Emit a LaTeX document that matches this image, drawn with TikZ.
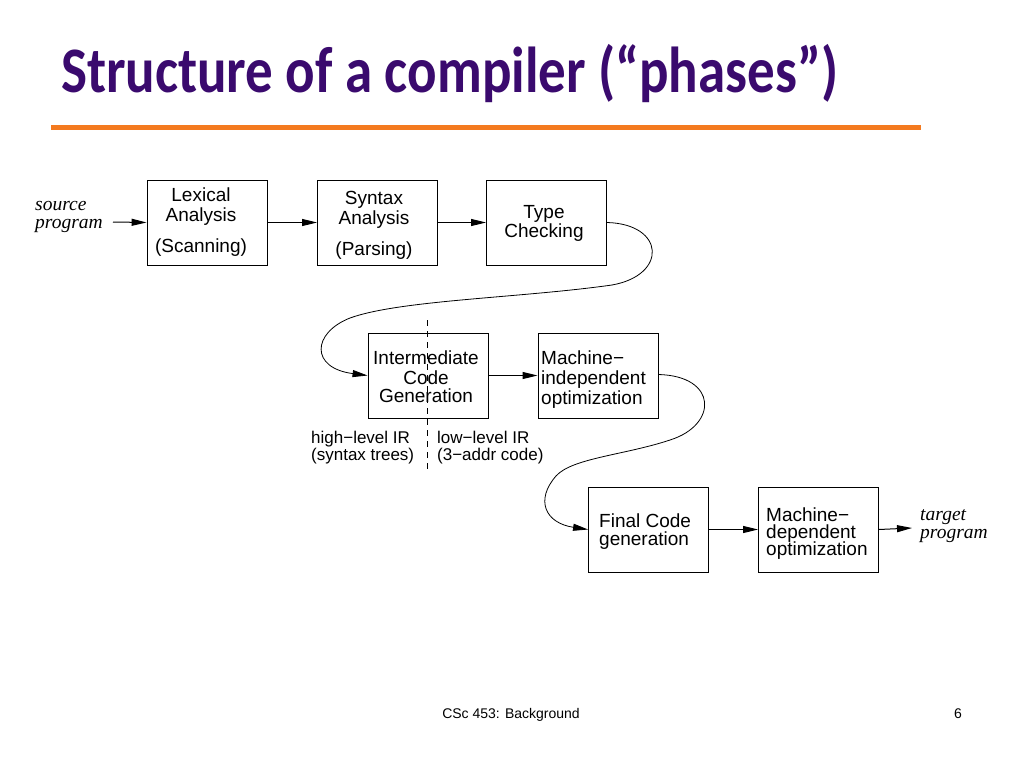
\documentclass[tikz,border=0pt]{standalone}
\usepackage{fontspec}
\setmainfont{Liberation Sans}
\newfontfamily\titlefont{Carlito}
\newfontfamily\serifit{Liberation Serif}
\usetikzlibrary{arrows.meta}
\definecolor{titlepurple}{HTML}{3A0A6E}
\definecolor{rulecolor}{HTML}{F47A1F}
\begin{document}
\begin{tikzpicture}[x=1pt,y=-1pt,
  phase/.style={draw, line width=0.9pt, minimum width=120pt, minimum height=85pt, inner sep=0pt},
  ln/.style={inner sep=0pt, anchor=base, font=\fontsize{19}{19}\selectfont},
  lnl/.style={inner sep=0pt, anchor=base west, font=\fontsize{19}{19}\selectfont},
  io/.style={inner sep=0pt, anchor=base west, font=\fontsize{19.5}{17}\serifit\itshape},
  irl/.style={inner sep=0pt, anchor=base west, font=\fontsize{17}{17}\selectfont},
  arr/.style={line width=1pt, -{Triangle[length=15pt,width=7pt]}},
  crv/.style={line width=0.8pt, -{Triangle[length=15pt,width=7pt]}}]
\useasboundingbox (0,0) rectangle (1024,768);
\fill[white] (0,0) rectangle (1024,768);
% title
\node[anchor=base west, inner sep=0pt, text=titlepurple, yscale=1.18, font=\fontsize{55}{55}\titlefont\bfseries] (title) at (61,92) {Structure of a compiler (“phases”)};
\draw[rulecolor, line width=5pt] (51,127) -- (921,127);
% boxes
\node[phase] (lex) at (207,222.5) {};
\node[phase] (syn) at (377.5,222.5) {};
\node[phase] (typ) at (546.5,222.5) {};
\node[phase] (icg) at (428,375.5) {};
\node[phase] (mio) at (598,375.5) {};
\node[phase] (fcg) at (648.5,529.5) {};
\node[phase] (mdo) at (818.5,529.5) {};
% box texts
\node[ln] (t1) at (201,201) {Lexical};
\node[ln] (t2) at (201,221) {Analysis};
\node[ln] (t3) at (201,252) {(Scanning)};
\node[ln] (t4) at (374,204) {Syntax};
\node[ln] (t5) at (374,224) {Analysis};
\node[ln] (t6) at (374,255) {(Parsing)};
\node[ln] (t7) at (544,218) {Type};
\node[ln] (t8) at (544,237) {Checking};
\node[ln] (t9) at (426,364) {Intermediate};
\node[ln] (t10) at (426,384) {Code};
\node[ln] (t11) at (426,402) {Generation};
\node[lnl] (t12) at (541,364) {Machine−};
\node[lnl] (t13) at (541,384) {independent};
\node[lnl] (t14) at (541,404) {optimization};
\node[lnl] (t15) at (599,527) {Final Code};
\node[lnl] (t16) at (599,545) {generation};
\node[lnl] (t17) at (766,521) {Machine−};
\node[lnl] (t18) at (766,538) {dependent};
\node[lnl] (t19) at (766,555) {optimization};
% io labels
\node[io] (src1) at (35,210) {source};
\node[io] (src2) at (35,228.5) {program};
\node[io] (tgt1) at (920,520) {target};
\node[io] (tgt2) at (920,538.5) {program};
\coordinate (srcend) at (113,222);
\coordinate (tgtend) at (912,528);
% IR labels
\node[irl] (hi1) at (311,443) {high−level IR};
\node[irl] (hi2) at (311,460) {(syntax trees)};
\node[irl] (lo1) at (437,443) {low−level IR};
\node[irl] (lo2) at (437,460) {(3−addr code)};
\coordinate (dtop) at (427,320);
\coordinate (dbot) at (427,472);
\draw[line width=0.8pt, dash pattern=on 6pt off 5pt] (dtop) -- (dbot);
% arrows
\draw[arr] (srcend) -- (lex.west);
\draw[arr] (lex.east) -- (syn.west);
\draw[arr] (syn.east) -- (typ.west);
\draw[arr] (icg.east) -- (mio.west);
\draw[arr] (fcg.east) -- (mdo.west);
\draw[arr] (mdo.east) -- (tgtend);
\draw[crv] (typ.east) .. controls (665,224) and (668,275) .. (612,285)
  .. controls (520,298) and (400,300) .. (350,318)
  .. controls (312,333) and (310,368) .. (icg.west);
\draw[crv] ([yshift=1pt]mio.east) .. controls (718,376) and (718,425) .. (670,440)
  .. controls (625,455) and (572,458) .. (556,476)
  .. controls (535,500) and (545,523) .. (fcg.west);
% footer
\node[inner sep=0pt, anchor=base, font=\fontsize{14}{14}\selectfont] (foot) at (511,718) {CSc 453: Background};
\node[inner sep=0pt, anchor=base, font=\fontsize{14}{14}\selectfont] (pnum) at (958,718) {6};
\end{tikzpicture}
\end{document}
